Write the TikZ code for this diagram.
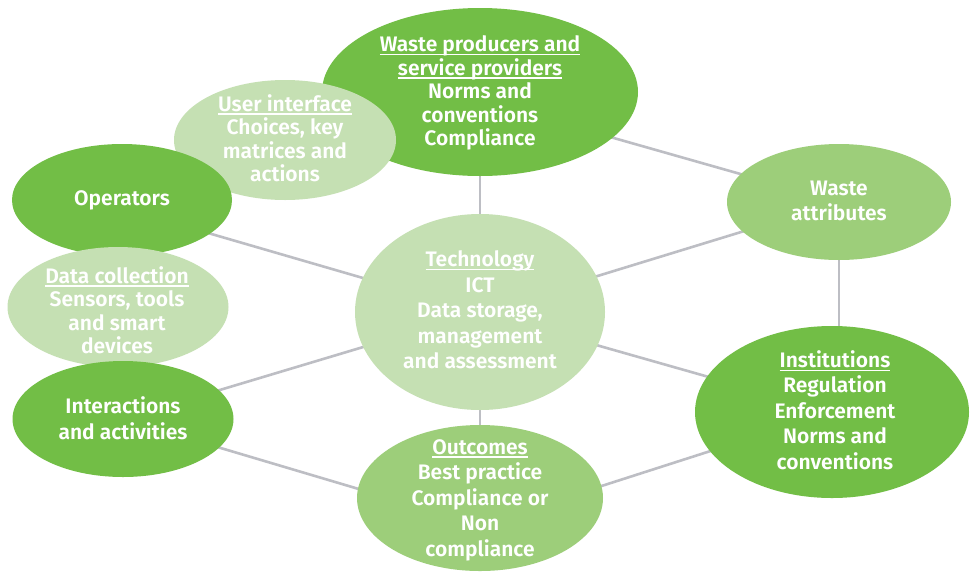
\documentclass[tikz,border=0pt]{standalone}
\usepackage{fontspec}
\setmainfont{Fira Sans}[UprightFont={* SemiBold}, BoldFont={* Bold}]
\usetikzlibrary{shapes.geometric,backgrounds}
\definecolor{gdark}{HTML}{72BE46}
\definecolor{gmid}{HTML}{9DCE7A}
\definecolor{glight}{HTML}{C5E0B3}
\definecolor{linkgray}{HTML}{BDBEC4}
% underline that sits just below the baseline
\newcommand{\ulbox}[1]{\setbox0\hbox{#1}\rlap{\rule[-3.6pt]{\wd0}{1.3pt}}\box0}
\begin{document}
\begin{tikzpicture}[x=1pt,y=-1pt,
  blob/.style={ellipse, draw=none, inner sep=0pt},
  txt/.style={text=white, align=center, inner sep=0pt, font=\fontsize{21}{23.5}\selectfont},
  txtw/.style={txt, font=\fontsize{21}{25.5}\selectfont},
  link/.style={draw=linkgray, line width=2.6pt}]
\useasboundingbox (0,0) rectangle (974,574);

% ellipses, back to front
\node[blob, fill=gdark,  minimum width=316pt, minimum height=168pt] (top)  at (480,92)  {};
\node[blob, fill=glight, minimum width=222pt, minimum height=120pt] (ui)   at (285,140) {};
\node[blob, fill=gdark,  minimum width=220pt, minimum height=112pt] (op)   at (122,200) {};
\node[blob, fill=glight, minimum width=221pt, minimum height=120pt] (dc)   at (118,307) {};
\node[blob, fill=gdark,  minimum width=221pt, minimum height=116pt] (ia)   at (123,419) {};
\node[blob, fill=glight, minimum width=250pt, minimum height=196pt] (tech) at (480,312) {};
\node[blob, fill=gmid,   minimum width=224pt, minimum height=116pt] (wa)   at (839,202) {};
\node[blob, fill=gdark,  minimum width=274pt, minimum height=172pt] (inst) at (832,412) {};
\node[blob, fill=gmid,   minimum width=246pt, minimum height=146pt] (out)  at (480,498) {};

% labels
\node[txt]  (topt)  at (480,93)  {\ulbox{Waste producers and}\\\ulbox{service providers}\\Norms and\\conventions\\Compliance};
\node[txt]  (uit)   at (285,138) {\ulbox{User interface}\\Choices, key\\matrices and\\actions};
\node[txt]  (opt)   at (122,200) {Operators};
\node[txt]  (dct)   at (117,310) {\ulbox{Data collection}\\Sensors, tools\\and smart\\devices};
\node[txtw] (iat)   at (123,418) {Interactions\\and activities};
\node[txtw] (techt) at (480,310) {\ulbox{Technology}\\ICT\\Data storage,\\management\\and assessment};
\node[txtw] (wat)   at (839,201) {Waste\\attributes};
\node[txtw] (instt) at (835,410) {\ulbox{Institutions}\\Regulation\\Enforcement\\Norms and\\conventions};
\node[txtw] (outt)  at (480,500) {\ulbox{Outcomes}\\Best practice\\Compliance or\\Non\\compliance};

% connectors behind the ellipses, on a white ground
\begin{scope}[on background layer]
\fill[white] (0,0) rectangle (974,574);
\draw[link] (top.center) -- (tech.center);
\draw[link] ([yshift=-8pt]top.center) -- (wa.center);
\draw[link] (tech.center) -- (wa.center);
\draw[link] (wa.center) -- (wa.center |- inst.center);
\draw[link] (tech.center) -- (inst.center);
\draw[link] ([yshift=-8pt]op.center) -- (tech.center);
\draw[link] (ia.center) -- (tech.center);
\draw[link] (tech.center) -- (out.center);
\draw[link] (ia.center) -- ([yshift=-27pt]out.center);
\draw[link] ([yshift=-27pt]out.center) -- (inst.center);
\end{scope}
\end{tikzpicture}
\end{document}
